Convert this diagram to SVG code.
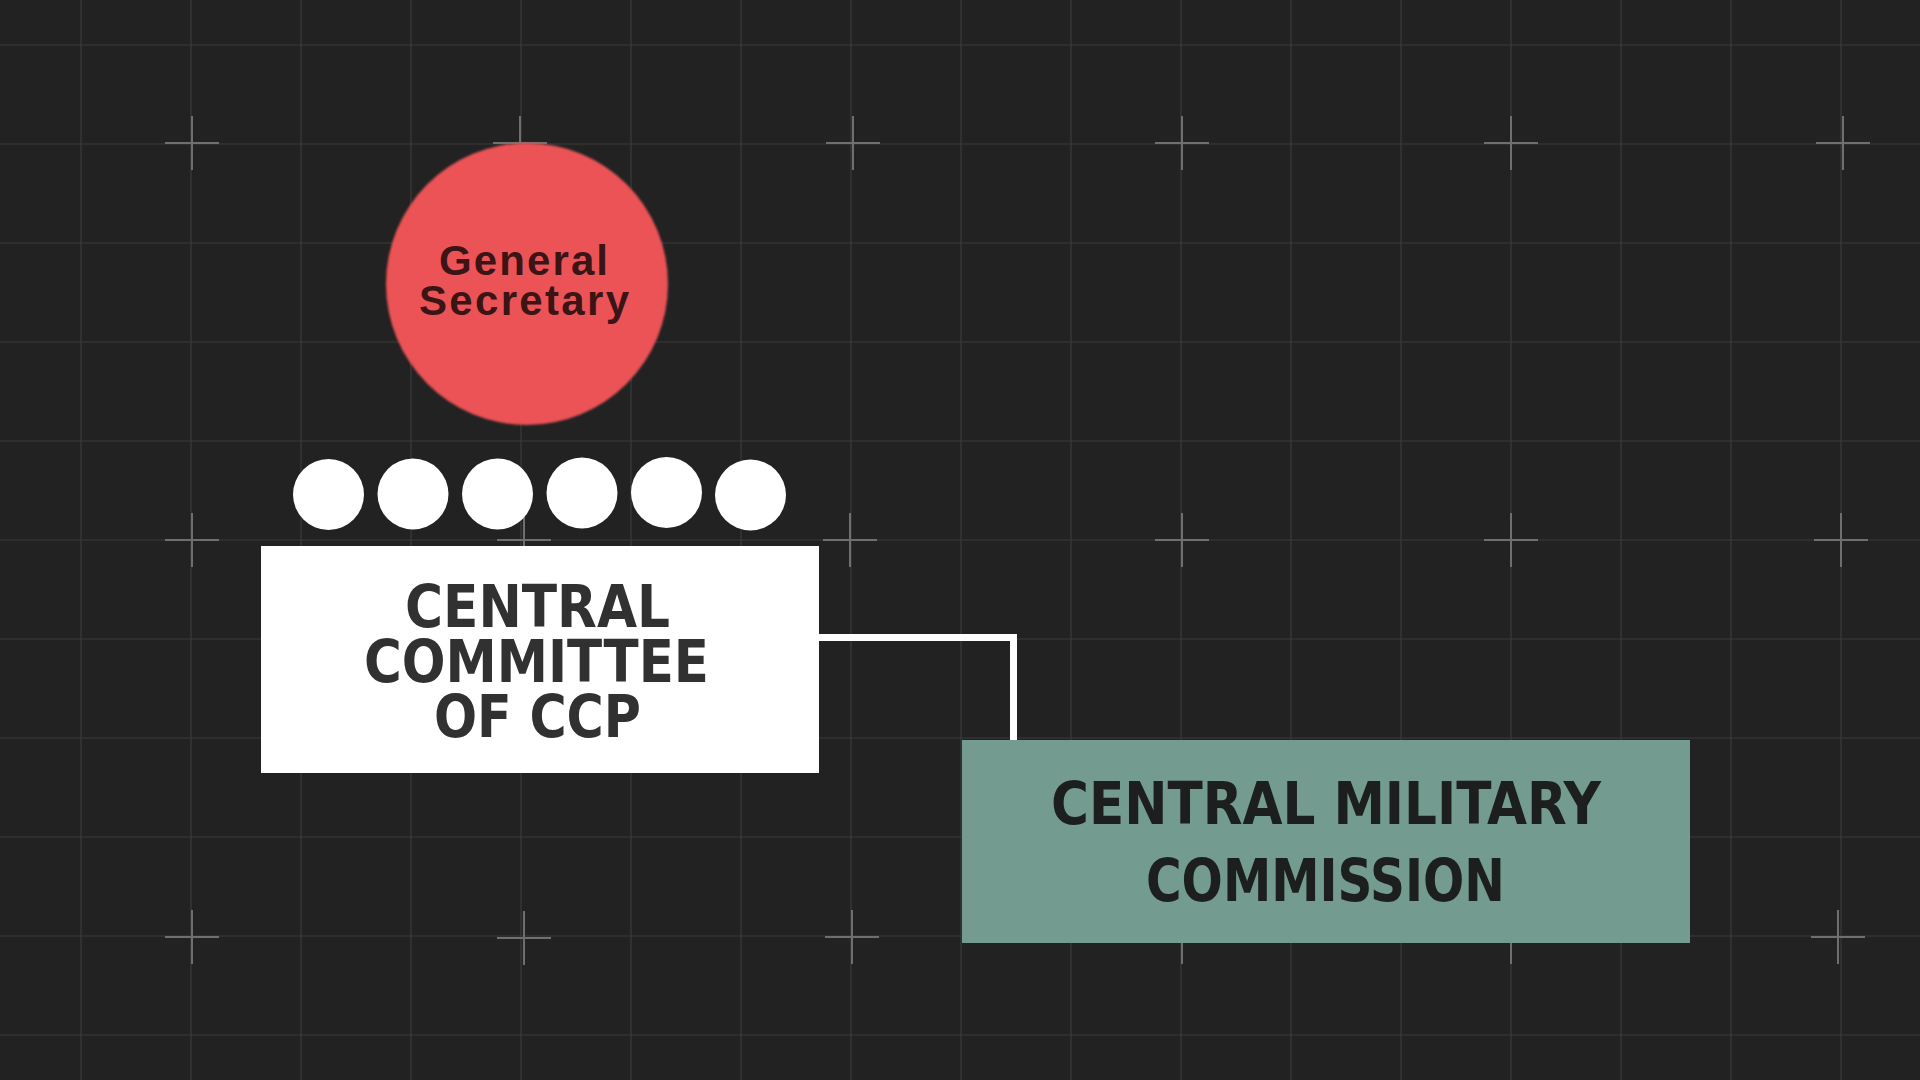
<svg xmlns="http://www.w3.org/2000/svg" width="1920" height="1080" viewBox="0 0 1920 1080">
<defs>
<style>
.grid line{stroke:#3b3b3b;stroke-width:1.2}
.cross path{stroke:#6f6f6f;stroke-width:2;fill:none}
.block{font-family:"DejaVu Sans Condensed","DejaVu Sans",sans-serif;font-weight:bold;font-size:59px}
.gs{font-family:"Liberation Sans",Arial,sans-serif;font-weight:bold;font-size:42px;fill:#3b1416}
.member{fill:#ffffff}
</style>
<filter id="soft" x="-10%" y="-10%" width="120%" height="120%"><feGaussianBlur stdDeviation="1.2"/></filter>
</defs>
<rect width="1920" height="1080" fill="#222222"/>
<g class="grid">
<line x1="81" y1="0" x2="81" y2="1080"/><line x1="191" y1="0" x2="191" y2="1080"/><line x1="301" y1="0" x2="301" y2="1080"/><line x1="411" y1="0" x2="411" y2="1080"/><line x1="521" y1="0" x2="521" y2="1080"/><line x1="631" y1="0" x2="631" y2="1080"/><line x1="741" y1="0" x2="741" y2="1080"/><line x1="851" y1="0" x2="851" y2="1080"/><line x1="961" y1="0" x2="961" y2="1080"/><line x1="1071" y1="0" x2="1071" y2="1080"/><line x1="1181" y1="0" x2="1181" y2="1080"/><line x1="1291" y1="0" x2="1291" y2="1080"/><line x1="1401" y1="0" x2="1401" y2="1080"/><line x1="1511" y1="0" x2="1511" y2="1080"/><line x1="1621" y1="0" x2="1621" y2="1080"/><line x1="1731" y1="0" x2="1731" y2="1080"/><line x1="1841" y1="0" x2="1841" y2="1080"/>
<line x1="0" y1="45" x2="1920" y2="45"/><line x1="0" y1="144" x2="1920" y2="144"/><line x1="0" y1="243" x2="1920" y2="243"/><line x1="0" y1="342" x2="1920" y2="342"/><line x1="0" y1="441" x2="1920" y2="441"/><line x1="0" y1="540" x2="1920" y2="540"/><line x1="0" y1="639" x2="1920" y2="639"/><line x1="0" y1="738" x2="1920" y2="738"/><line x1="0" y1="837" x2="1920" y2="837"/><line x1="0" y1="936" x2="1920" y2="936"/><line x1="0" y1="1035" x2="1920" y2="1035"/>
</g>
<g class="cross">
<path d="M165 143h54M192 116v54"/><path d="M493 143h54M520 116v54"/><path d="M826 143h54M853 116v54"/><path d="M1155 143h54M1182 116v54"/><path d="M1484 143h54M1511 116v54"/><path d="M1816 143h54M1843 116v54"/>
<path d="M165 540h54M192 513v54"/><path d="M497 540h54M524 513v54"/><path d="M823 540h54M850 513v54"/><path d="M1155 540h54M1182 513v54"/><path d="M1484 540h54M1511 513v54"/><path d="M1814 540h54M1841 513v54"/>
<path d="M165 937h54M192 910v54"/><path d="M497 938h54M524 911v54"/><path d="M825 937h54M852 910v54"/><path d="M1155 937h54M1182 910v54"/><path d="M1484 937h54M1511 910v54"/><path d="M1811 937h54M1838 910v54"/>
</g>
<g id="connectors">
<path d="M815 637.5H1013.5V742" fill="none" stroke="#ffffff" stroke-width="7"/>
</g>
<g id="general-secretary">
<circle cx="527" cy="284" r="141" fill="#eb5256" filter="url(#soft)"/>
<text class="gs" x="439" y="275" textLength="169" lengthAdjust="spacing">General</text>
<text class="gs" x="419" y="315" textLength="210" lengthAdjust="spacing">Secretary</text>
</g>
<g id="standing-committee">
<circle class="member" cx="328.5" cy="494.5" r="35.5"/>
<circle class="member" cx="413" cy="494" r="35.5"/>
<circle class="member" cx="497.5" cy="494" r="35.5"/>
<circle class="member" cx="582" cy="493" r="35.5"/>
<circle class="member" cx="666.5" cy="492.5" r="35.5"/>
<circle class="member" cx="750.5" cy="495" r="35.5"/>
</g>
<g id="central-committee">
<rect x="261" y="546" width="558" height="227" fill="#ffffff"/>
<text class="block" fill="#313131" x="405" y="627" textLength="265" lengthAdjust="spacingAndGlyphs">CENTRAL</text>
<text class="block" fill="#313131" x="364" y="682" textLength="345" lengthAdjust="spacingAndGlyphs">COMMITTEE</text>
<text class="block" fill="#313131" x="434" y="737" textLength="207" lengthAdjust="spacingAndGlyphs">OF CCP</text>
</g>
<g id="central-military-commission">
<rect x="962" y="740" width="728" height="203" fill="#739b8f"/>
<text class="block" fill="#1c1f1e" x="1051" y="824" textLength="550" lengthAdjust="spacingAndGlyphs">CENTRAL MILITARY</text>
<text class="block" fill="#1c1f1e" x="1146" y="901" textLength="359" lengthAdjust="spacingAndGlyphs">COMMISSION</text>
</g>
</svg>
